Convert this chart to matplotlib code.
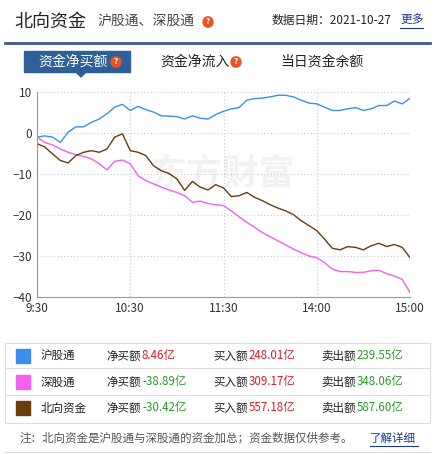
import matplotlib
matplotlib.use("Agg")
import matplotlib.pyplot as plt
from matplotlib.patches import Rectangle, Polygon

plt.rcParams['font.family'] = ['Noto Sans CJK SC', 'DejaVu Sans']

minutes = list(range(0, 241, 5))
sh = [-1, -0.7, -1, -2.3, 0.2, 1.5, 1.5, 2.6, 3.4, 4.7, 6.3, 7, 5.5, 6.5, 5.7, 5.1, 4.2, 4.1, 4, 3.4,
      4.2, 3.6, 3.4, 4.5, 5.3, 5.9, 6.2, 8, 8.4, 8.5, 8.8, 9.2, 9.2, 8.8, 8, 7.3, 7.1, 6.3, 5.5, 5.5,
      5.9, 6.2, 5.5, 5.9, 6.7, 6.7, 7.8, 7.1, 8.46]
sz = [-1, -2.3, -2.9, -3.9, -4.7, -5.3, -5.7, -6.3, -7.5, -9, -6.9, -6.6, -7.5, -10.4, -11.6, -12.4,
      -13.2, -13.9, -14.5, -15.3, -16.9, -16.6, -17.2, -17.5, -17.7, -19, -20.4, -21.8, -23, -24.3,
      -25.3, -26.3, -27.3, -28.3, -29.2, -30, -30.4, -31.6, -33.2, -33.8, -33.8, -34, -34, -33.6,
      -33.5, -34.3, -34.9, -35.7, -38.89]
nb = [-2.6, -3.4, -5.1, -6.7, -7.3, -5.5, -4.7, -4.3, -4.7, -3.9, -1, -0.2, -4.3, -4.7, -5.5, -8,
      -9.2, -9.9, -11.2, -14, -11.8, -13.2, -13.9, -12.6, -13.4, -15.5, -15.3, -14.5, -15.7, -16.5,
      -17.5, -18.3, -19, -19.9, -21.4, -22.6, -23.8, -25.9, -28.1, -28.5, -27.7, -27.9, -28.5, -27.5,
      -26.9, -27.7, -27.2, -27.9, -30.4]
xticks = [0, 60, 120, 180, 240]
xlabels = ['9:30', '10:30', '11:30', '14:00', '15:00']
yticks = [10, 0, -10, -20, -30, -40]

names = ['沪股通', '深股通', '北向资金']
colors = ['#3d8ef0', '#f560f0', '#6b3c0c']
net = ['8.46', '-38.89', '-30.42']
buy = ['248.01', '309.17', '557.18']
sell = ['239.55', '348.06', '587.60']

W, H = 441, 454
fig = plt.figure(figsize=(W/100, H/100), dpi=100)
fx = lambda x: x / W
fy = lambda y: 1 - y / H

def qmark(x, y):
    fig.patches.append(plt.Circle((fx(x), fy(y)), 5/W, transform=fig.transFigure, color='#e8541c'))
    fig.text(fx(x), fy(y), '?', fontsize=6, ha='center', va='center', color='white', weight='bold')

# header
fig.text(fx(14), fy(22), '北向资金', fontsize=13, va='center', color='#222')
fig.text(fx(97), fy(22), '沪股通、深股通', fontsize=10, va='center', color='#444')
qmark(208, 22)
fig.text(fx(272), fy(20), '数据日期：2021-10-27', fontsize=8.5, va='center', color='#222')
fig.text(fx(400), fy(20), '更多', fontsize=8.5, va='center', color='#1a3a9a')
fig.add_artist(plt.Line2D([fx(400), fx(423)], [fy(28), fy(28)], color='#1a3a9a', lw=0.8))
fig.add_artist(plt.Line2D([fx(5), fx(430)], [fy(43), fy(43)], color='#3d5a8a', lw=2))
# tabs
fig.patches.append(Rectangle((fx(24), fy(72)), 106/W, 21/H, transform=fig.transFigure, color='#2f5f98'))
fig.patches.append(Polygon([(fx(76), fy(72)), (fx(86), fy(72)), (fx(81), fy(77))], closed=True,
                           transform=fig.transFigure, color='#2f5f98'))
fig.text(fx(38), fy(62), '资金净买额', fontsize=10, va='center', color='white')
qmark(116, 62)
fig.text(fx(160), fy(62), '资金净流入', fontsize=10, va='center', color='#222')
qmark(236, 62)
fig.text(fx(280), fy(62), '当日资金余额', fontsize=10, va='center', color='#222')

# chart
ax = fig.add_axes([fx(37), fy(297), (410-37)/W, (297-92)/H])
ax.plot(minutes, sh, color=colors[0], lw=1)
ax.plot(minutes, sz, color=colors[1], lw=1)
ax.plot(minutes, nb, color=colors[2], lw=1)
ax.set_xlim(0, 240)
ax.set_ylim(-40, 10)
ax.set_xticks(xticks)
ax.set_xticklabels(xlabels)
ax.set_yticks(yticks)
ax.tick_params(length=0, labelsize=8.5, colors='#333')
ax.grid(True, ls=(0, (1, 2)), color='#cccccc', lw=0.8)
for s in ['top', 'right']:
    ax.spines[s].set_visible(False)
for s in ['left', 'bottom']:
    ax.spines[s].set_color('#999')
ax.text(0.5, 0.6, '东方财富', transform=ax.transAxes, fontsize=26, color='#000', alpha=0.05,
        ha='center', va='center', weight='bold')

# table
fig.patches.append(Rectangle((fx(5), fy(423)), 425/W, 80/H, transform=fig.transFigure,
                             fill=False, ec='#dddddd', lw=0.8))
for yy in [368, 395]:
    fig.add_artist(plt.Line2D([fx(5), fx(430)], [fy(yy), fy(yy)], color='#dddddd', lw=0.8))
rows = [356, 382, 408]
fs = 8.3
for i in range(3):
    y = fy(rows[i])
    fig.patches.append(Rectangle((fx(16), y - 7/H), 14/W, 14/H, transform=fig.transFigure, color=colors[i]))
    fig.text(fx(41), y, names[i], fontsize=fs, va='center', color='#222')
    fig.text(fx(106), y, '净买额', fontsize=fs, va='center', color='#222')
    nc = '#d0202a' if not net[i].startswith('-') else '#2a9a2a'
    fig.text(fx(142), y, net[i] + '亿', fontsize=fs, va='center', color=nc)
    fig.text(fx(213), y, '买入额', fontsize=fs, va='center', color='#222')
    fig.text(fx(249), y, buy[i] + '亿', fontsize=fs, va='center', color='#d0202a')
    fig.text(fx(321), y, '卖出额', fontsize=fs, va='center', color='#222')
    fig.text(fx(357), y, sell[i] + '亿', fontsize=fs, va='center', color='#2a9a2a')
fig.text(fx(20), fy(438), '注：北向资金是沪股通与深股通的资金加总；资金数据仅供参考。', fontsize=8.3,
         va='center', color='#555')
fig.text(fx(370), fy(438), '了解详细', fontsize=8.3, va='center', color='#1a3a9a')
fig.add_artist(plt.Line2D([fx(370), fx(418)], [fy(446), fy(446)], color='#1a3a9a', lw=0.8))
fig.add_artist(plt.Line2D([fx(5), fx(430)], [fy(452), fy(452)], color='#dddddd', lw=0.8))

fig.savefig('out.png', dpi=100)
